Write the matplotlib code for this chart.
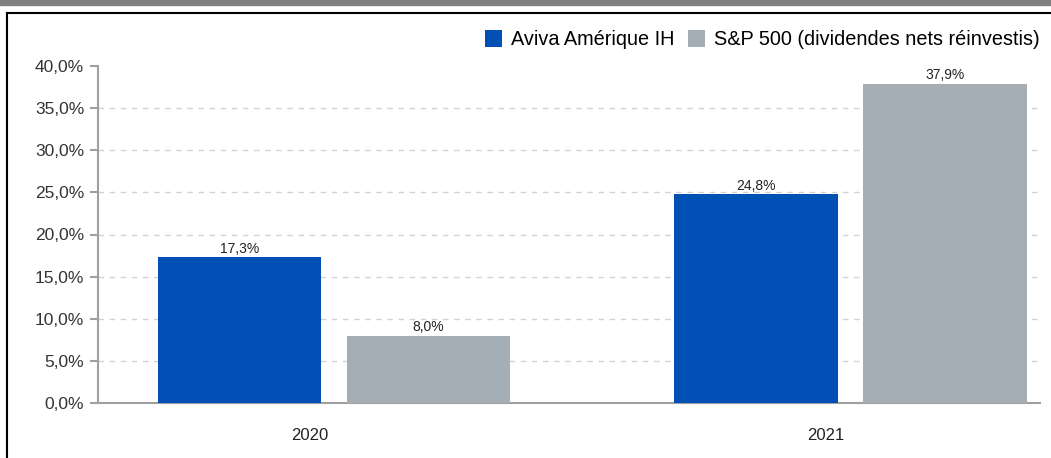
import matplotlib.pyplot as plt
from matplotlib.patches import Rectangle
from matplotlib.lines import Line2D

plt.rcParams['font.family'] = ['Liberation Sans', 'DejaVu Sans']

years = ["2020", "2021"]
series_names = ["Aviva Amérique IH", "S&P 500 (dividendes nets réinvestis)"]
aviva = [17.3, 24.8]
sp500 = [8.0, 37.9]
colors = ['#0050b5', '#a5aeb5']

def fmt(v):
    return f"{v:.1f}%".replace('.', ',')

fig = plt.figure(figsize=(10.51, 4.58), dpi=100)
ax = fig.add_axes([98 / 1051, 55 / 458, 942 / 1051, 337 / 458])

x = range(len(years))
w = 0.316
off = 0.183
b1 = ax.bar([i - off for i in x], aviva, w, color=colors[0], label=series_names[0], zorder=3)
b2 = ax.bar([i + off for i in x], sp500, w, color=colors[1], label=series_names[1], zorder=3)

for bars, vals in ((b1, aviva), (b2, sp500)):
    for r, v in zip(bars, vals):
        ax.text(r.get_x() + r.get_width() / 2, v + 0.15, fmt(v), ha='center', va='bottom',
                fontsize=10, color='#222222')

ax.set_ylim(0, 40)
ax.set_xlim(-0.457, 1.367)
yt = list(range(0, 41, 5))
ax.set_yticks(yt)
ax.set_yticklabels([fmt(v) for v in yt], fontsize=12.5, color='#333333')
ax.set_xticks([i - 0.047 for i in x])
ax.set_xticklabels(years, fontsize=12, color='#222222')
ax.tick_params(axis='x', length=0, pad=18)
ax.tick_params(axis='y', length=6, color='#a0a0a0', width=1.5, pad=4)

ax.yaxis.grid(True, linestyle=(0, (4, 4)), color='#d2d2d2', linewidth=1, zorder=0)
ax.get_ygridlines()[-1].set_visible(False)
ax.get_ygridlines()[0].set_visible(False)
for s in ('top', 'right'):
    ax.spines[s].set_visible(False)
ax.spines['left'].set_color('#a0a0a0')
ax.spines['bottom'].set_color('#a0a0a0')
ax.spines['left'].set_linewidth(1.5)
ax.spines['bottom'].set_linewidth(1.5)

fig.legend(handles=[b1, b2], labels=series_names, loc='upper right',
           bbox_to_anchor=(1048 / 1051, 1 - 22 / 458), ncol=2, frameon=False,
           fontsize=14.3, handlelength=0.85, handleheight=0.95, handletextpad=0.45,
           columnspacing=0.7, borderaxespad=0)

# decoration: top grey band and black frame
fig.patches.append(Rectangle((0, 1 - 5 / 458), 1, 5 / 458, transform=fig.transFigure,
                             color='#808080', zorder=0))
fig.lines.append(Line2D([7 / 1051, 7 / 1051], [0, 1 - 13 / 458], transform=fig.transFigure,
                        color='black', linewidth=1.5))
fig.lines.append(Line2D([7 / 1051, 1], [1 - 13 / 458, 1 - 13 / 458], transform=fig.transFigure,
                        color='black', linewidth=1.5))

fig.savefig('out.png', dpi=100)
